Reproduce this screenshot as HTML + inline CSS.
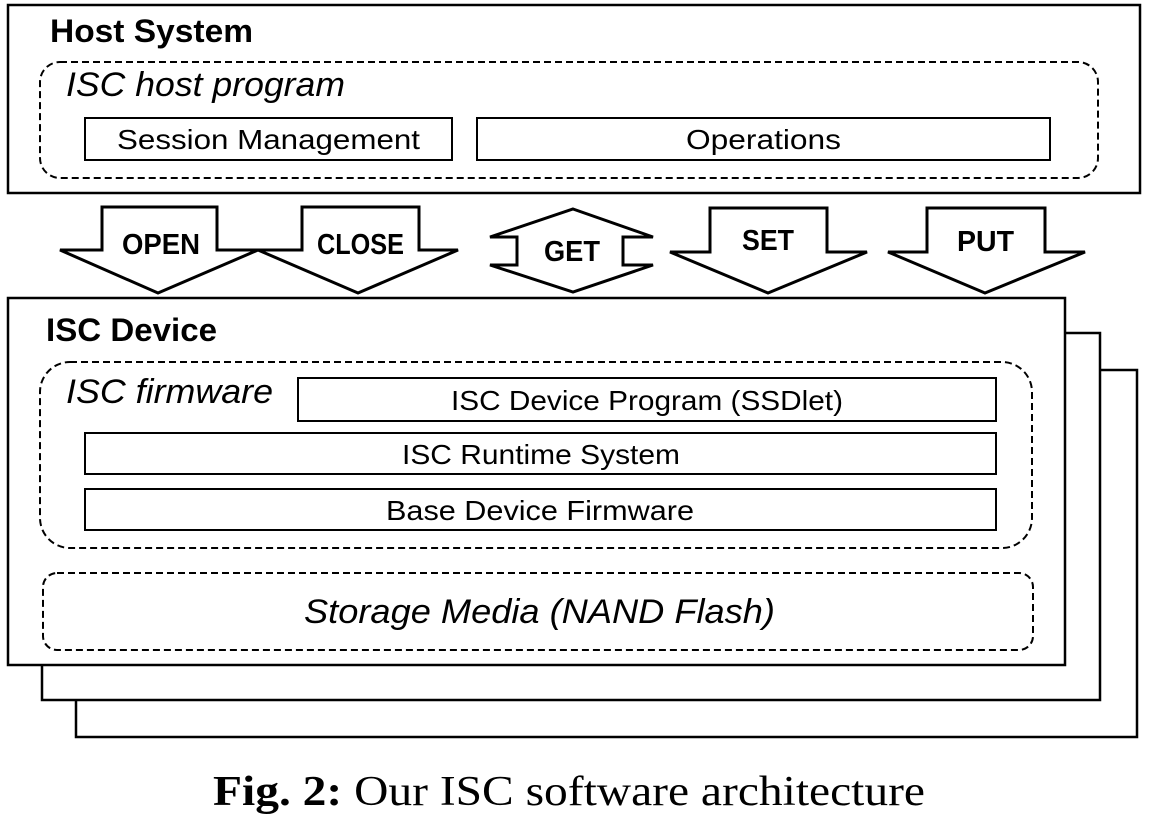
<!DOCTYPE html>
<html><head><meta charset="utf-8"><style>
html,body{margin:0;padding:0;background:#fff;}
svg{display:block;}
text{font-family:"Liberation Sans",sans-serif;fill:#000;}
</style></head><body>
<svg width="1168" height="814" viewBox="0 0 1168 814" xmlns="http://www.w3.org/2000/svg">
<g fill="#fff" stroke="#000" stroke-width="2.5">
<rect x="76" y="370" width="1061" height="367"/>
<rect x="42" y="333" width="1058" height="367"/>
<rect x="8" y="298" width="1057" height="367"/>
<rect x="8" y="5" width="1132" height="188"/>
</g>
<g fill="none" stroke="#000" stroke-width="2" stroke-dasharray="7,4">
<rect x="40" y="62" width="1058" height="116" rx="20"/>
<rect x="40" y="362" width="992" height="186" rx="30"/>
<rect x="43" y="573" width="990" height="77" rx="14"/>
</g>
<g fill="#fff" stroke="#000" stroke-width="2">
<rect x="85" y="118" width="367" height="42"/>
<rect x="477" y="118" width="573" height="42"/>
<rect x="298" y="378" width="698" height="43"/>
<rect x="85" y="433" width="911" height="41"/>
<rect x="85" y="489" width="911" height="41"/>
</g>
<g fill="#fff" stroke="#000" stroke-width="3" stroke-linejoin="miter">
<path d="M102,207 L217,207 L217,250 L258,250 L158,293 L60,250 L102,250 Z"/>
<path d="M302,207 L419,207 L419,250 L458,250 L358,293 L258,250 L302,250 Z"/>
<path d="M573,209 L653,237 L623,237 L623,265 L653,265 L573,292 L490,265 L517,265 L517,237 L490,237 Z"/>
<path d="M710,208 L827,208 L827,252 L867,252 L768,293 L670,252 L710,252 Z"/>
<path d="M927,208 L1045,208 L1045,252 L1085,252 L985,293 L888,252 L927,252 Z"/>
</g>
<g font-weight="bold" font-size="29">
<text x="122" y="254" textLength="78" lengthAdjust="spacingAndGlyphs">OPEN</text>
<text x="317" y="254" textLength="87" lengthAdjust="spacingAndGlyphs">CLOSE</text>
<text x="544" y="261" textLength="56" lengthAdjust="spacingAndGlyphs">GET</text>
<text x="742" y="250" textLength="52" lengthAdjust="spacingAndGlyphs">SET</text>
<text x="957" y="251" textLength="57" lengthAdjust="spacingAndGlyphs">PUT</text>
</g>
<text x="50" y="42" font-size="32" font-weight="bold" textLength="203" lengthAdjust="spacingAndGlyphs">Host System</text>
<text x="46" y="341" font-size="32" font-weight="bold" textLength="171" lengthAdjust="spacingAndGlyphs">ISC Device</text>
<text x="66" y="96" font-size="34" font-style="italic" textLength="279" lengthAdjust="spacingAndGlyphs">ISC host program</text>
<text x="66" y="403" font-size="34" font-style="italic" textLength="207" lengthAdjust="spacingAndGlyphs">ISC firmware</text>
<g font-size="28">
<text x="117" y="149" textLength="303" lengthAdjust="spacingAndGlyphs">Session Management</text>
<text x="686" y="149" textLength="155" lengthAdjust="spacingAndGlyphs">Operations</text>
<text x="451" y="410" textLength="392" lengthAdjust="spacingAndGlyphs">ISC Device Program (SSDlet)</text>
<text x="402" y="464" textLength="278" lengthAdjust="spacingAndGlyphs">ISC Runtime System</text>
<text x="386" y="520" textLength="308" lengthAdjust="spacingAndGlyphs">Base Device Firmware</text>
</g>
<text x="304" y="623" font-size="34" font-style="italic" textLength="471" lengthAdjust="spacingAndGlyphs">Storage Media (NAND Flash)</text>
<text x="213" y="805" font-size="42" textLength="712" lengthAdjust="spacingAndGlyphs" style="font-family:'Liberation Serif',serif"><tspan font-weight="bold">Fig. 2:</tspan> Our ISC software architecture</text>
</svg>
</body></html>
